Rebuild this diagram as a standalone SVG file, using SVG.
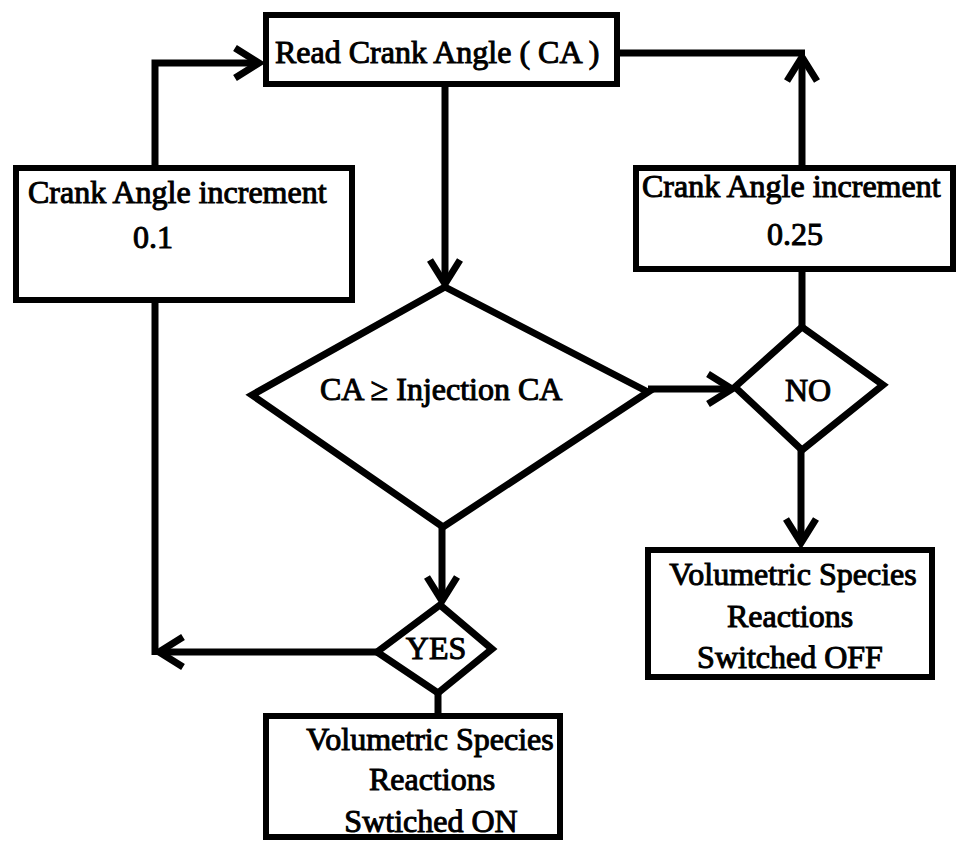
<svg xmlns="http://www.w3.org/2000/svg" width="958" height="846" viewBox="0 0 958 846">
<style>
.box{fill:#fff;stroke:#000;stroke-width:6}
.dia{fill:#fff;stroke:#000;stroke-width:7;stroke-linejoin:miter}
.con{fill:none;stroke:#000;stroke-width:7}
.t{font-family:"Liberation Serif","Times New Roman",serif;font-size:32px;fill:#000;stroke:#000;stroke-width:1}
.m{text-anchor:middle}
</style>
<defs>
<marker id="arr" markerUnits="userSpaceOnUse" markerWidth="40" markerHeight="40" viewBox="-30 -20 34 40" refX="0" refY="0" orient="auto">
<path d="M-24,-15 L0,0 L-24,15" fill="none" stroke="#000" stroke-width="7" stroke-linejoin="miter"/>
</marker>
</defs>
<rect width="958" height="846" fill="#fff"/>
<g id="connectors">
<path class="con" d="M445,86 V284" marker-end="url(#arr)"/>
<path class="con" d="M620,53 H805"/>
<path class="con" d="M802,165 V57" marker-end="url(#arr)"/>
<path class="con" d="M648,389 H732" marker-end="url(#arr)"/>
<path class="con" d="M802,272 V327"/>
<path class="con" d="M801,450 V543" marker-end="url(#arr)"/>
<path class="con" d="M442,527 V601" marker-end="url(#arr)"/>
<path class="con" d="M377,652 H159" marker-end="url(#arr)"/>
<path class="con" d="M155,302 V655"/>
<path class="con" d="M438,693 V713"/>
<path class="con" d="M155,165 V63 H259" marker-end="url(#arr)"/>
</g>
<g id="read">
<rect class="box" x="266" y="15" width="351" height="69"/>
<text class="t" x="275" y="63">Read Crank Angle ( CA )</text>
</g>
<g id="inc01">
<rect class="box" x="16" y="168" width="336" height="132"/>
<text class="t" x="28" y="203">Crank Angle increment</text>
<text class="t" x="133" y="248">0.1</text>
</g>
<g id="inc025">
<rect class="box" x="636" y="168" width="317" height="101"/>
<text class="t" x="642" y="197">Crank Angle increment</text>
<text class="t" x="767" y="245">0.25</text>
</g>
<g id="decision">
<polygon class="dia" points="445,287 648,392 443,527 252,395"/>
<text class="t" x="320" y="400">CA ≥ Injection CA</text>
</g>
<g id="no">
<polygon class="dia" points="802,327 883,385 802,450 735,387"/>
<text class="t m" x="808" y="401">NO</text>
</g>
<g id="yes">
<polygon class="dia" points="440,605 492,649 438,693 377,652"/>
<text class="t m" x="436" y="659">YES</text>
</g>
<g id="off">
<rect class="box" x="648" y="550" width="284" height="127"/>
<text class="t m" x="793" y="585">Volumetric Species</text>
<text class="t m" x="790" y="627">Reactions</text>
<text class="t m" x="790" y="668">Switched OFF</text>
</g>
<g id="on">
<rect class="box" x="266" y="716" width="294" height="121"/>
<text class="t m" x="430" y="750">Volumetric Species</text>
<text class="t m" x="432" y="790">Reactions</text>
<text class="t m" x="431" y="832">Swtiched ON</text>
</g>
</svg>
